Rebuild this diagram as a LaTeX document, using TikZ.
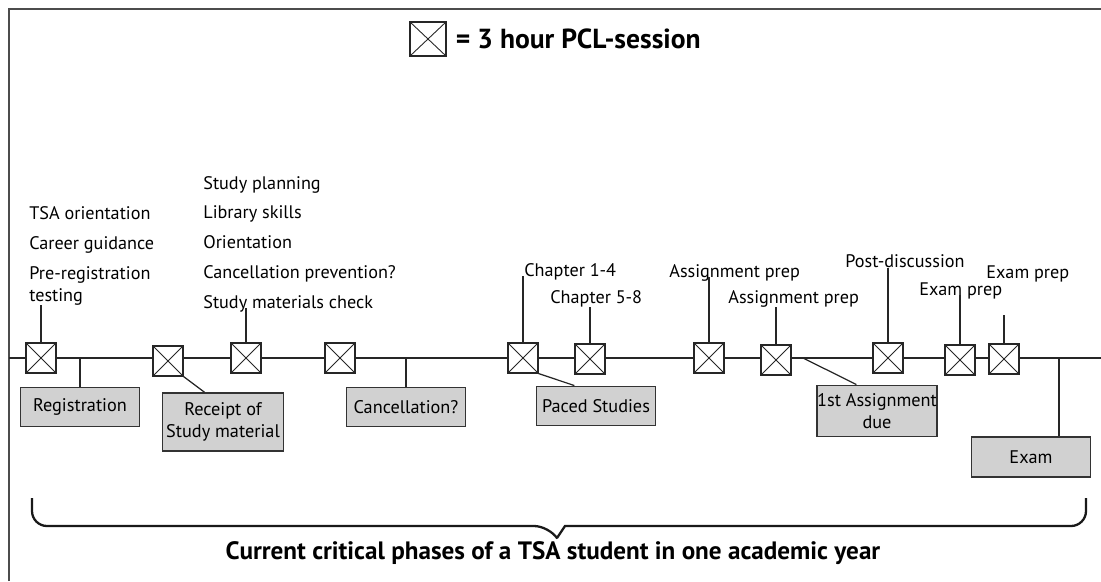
\documentclass[tikz,border=0pt]{standalone}
\usepackage{fontspec}
\setmainfont{PT Sans}
\usetikzlibrary{positioning, calc}
\tikzset{
  session/.style={draw=black!85, fill=white, line width=0.6pt, minimum size=0.6cm, inner sep=0pt,
    path picture={\draw[line width=0.5pt] (path picture bounding box.south west) -- (path picture bounding box.north east)
      (path picture bounding box.north west) -- (path picture bounding box.south east);}},
  phase/.style={draw=black!80, fill=black!18, line width=0.8pt, minimum width=2.38cm, minimum height=0.79cm,
    inner sep=0pt, align=center, font=\fontsize{10.4}{12.3}\selectfont},
  lbl/.style={anchor=base west, inner sep=0pt, align=left, font=\fontsize{10.35}{12.2}\selectfont},
  tick/.style={line width=0.7pt, black!85},
}
\begin{document}
\begin{tikzpicture}[x=0.02cm, y=-0.02cm]
				\useasboundingbox (0,0) rectangle (1101,581);
				\draw[line width=1.1pt, black!70] (9,581) -- (9,9) -- (1101,9); % 边框

				% 图例
				\node[session, minimum width=0.72cm, minimum height=0.68cm] (key) at (428,39) {};
				\node[right=0.18cm of key, inner sep=0pt, font=\bfseries\fontsize{15.7}{18}\selectfont] (keytxt) {= 3 hour PCL-session};

				% 时间轴
				\coordinate (tl0) at (9,358);
				\coordinate (tl1) at (1101,358);
				\draw[line width=1.6pt, black!85] (tl0) -- (tl1);
				\foreach \n/\x/\y in {s1/41/358, s2/168/361, s3/246/358, s4/340/358, s5/523/358, s6/590/359,
					s7/709/358, s8/776/360, s9/888/358, s10/960/360, s11/1004/359}
					\node[session] (\n) at (\x,\y) {};

				% 说明文字
				\node[lbl] (tsa) at (29,219) {TSA orientation};
				\node[lbl] (career) at (29,249) {Career guidance};
				\node[lbl] (prereg) at (29,301) {Pre-registration\\testing};
				\node[lbl] (plan) at (203,189) {Study planning};
				\node[lbl] (library) at (203,218) {Library skills};
				\node[lbl] (orient) at (203,248) {Orientation};
				\node[lbl] (prevent) at (203,278) {Cancellation prevention?};
				\node[lbl] (check) at (203,308) {Study materials check};
				\node[lbl] (ch14) at (524,276) {Chapter 1-4};
				\node[lbl] (ch58) at (550,303) {Chapter 5-8};
				\node[lbl] (prepa) at (669,277) {Assignment prep};
				\node[lbl] (prepb) at (728,303) {Assignment prep};
				\node[lbl] (post) at (845,267) {Post-discussion};
				\node[lbl] (exprepa) at (919,295) {Exam prep};
				\node[lbl] (exprepb) at (986,278) {Exam prep};

				\draw[tick] (s1.north) -- (s1.north |- prereg.south);
				\draw[tick] (s3.north) -- (s3.north |- check.base);
				\draw[tick] (s5.north) -- (s5.north |- ch14.base);
				\draw[tick] (s6.north) -- (s6.north |- ch58.south);
				\draw[tick] (s7.north) -- (s7.north |- prepa.base);
				\draw[tick] (s8.north) -- (s8.north |- prepb.south);
				\draw[tick] (s9.north) -- (s9.north |- post.south);
				\draw[tick] (s10.north) -- (s10.north |- exprepa.base);
				\draw[tick] (s11.north) -- ++(0,-28);

				% 阶段
				\node[phase] (reg) at (80,407) {Registration};
				\node[phase, minimum width=2.43cm, minimum height=1.16cm] (receipt) at (223,422) {Receipt of\\Study material};
				\node[phase] (cancel) at (406,407) {Cancellation?};
				\node[phase] (paced) at (596,406) {Paced Studies};
				\node[phase, minimum height=1.03cm] (first) at (877,411) {1st Assignment\\due};
				\node[phase, minimum height=0.8cm] (exam) at (1031,457) {Exam};

				\coordinate (firsttap) at (803,358);
				\coordinate (examtap) at (1059,358);
				\draw[tick] (reg.north) -- (reg.north |- tl0);
				\draw[tick] (s2.south east) -- ($(receipt.north west)!0.35!(receipt.north east)$);
				\draw[tick] (cancel.north) -- (cancel.north |- tl0);
				\draw[tick] (s5.south east) -- ($(paced.north west)!0.32!(paced.north east)$);
				\draw[tick] (firsttap) -- ($(first.north west)!0.33!(first.north east)$);
				\draw[tick] (examtap) -- (examtap |- exam.north);

				% 大括号
				\draw[line width=1.3pt, black!90] (32,498) [rounded corners=0.3cm] -- (32,526) -- (549,526) [sharp corners] -- (557,538) -- (565,526) [rounded corners=0.3cm] -- (1086,526) [sharp corners] -- (1086,498);
				\node[font=\bfseries\fontsize{14.3}{16}\selectfont] (caption) at (553,553) {Current critical phases of a TSA student in one academic year};
			\end{tikzpicture}
\end{document}
